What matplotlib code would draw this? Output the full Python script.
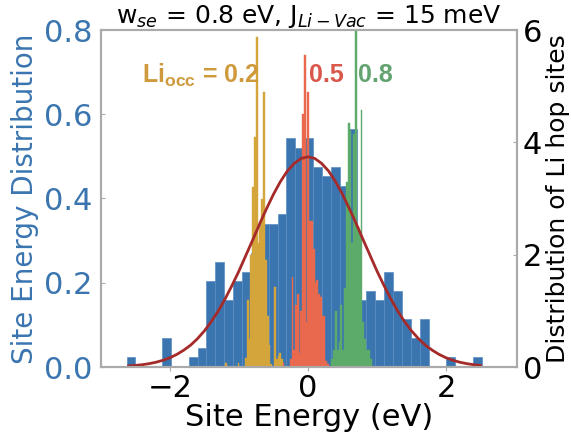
import numpy as np
import matplotlib
matplotlib.use("Agg")
import matplotlib.pyplot as plt

plt.rcParams['mathtext.fontset'] = 'custom'
plt.rcParams['mathtext.rm'] = 'DejaVu Sans'
plt.rcParams['mathtext.it'] = 'DejaVu Sans:italic'
plt.rcParams['mathtext.bf'] = 'Liberation Sans:bold'

# site energies: 40 bins between the min and max site energy (counts per bin)
site_range = (-2.63, 2.52)
site_counts = [1, 0, 0, 0, 3, 0, 0, 1, 2, 9,
               11, 7, 9, 10, 12, 15, 15, 16, 24, 23,
               24, 21, 20, 21, 19, 25, 7, 8, 7, 10,
               8, 5, 3, 5, 0, 0, 1, 0, 0, 1]

# hop site distributions (density, right axis), one per Li occupancy
occ02_start, occ02_width = -1.205, 0.0264
occ02_dens = [0.08, 0, 0, 0, 0, 0, 0, 0.08, 0, 0, 0,
              0.16, 1.2, 0.5, 2.0, 3.2, 4.1, 5.87, 2.2, 2.5, 3.0,
              4.9, 1.9, 0.9, 0.4, 0.05, 0, 1.43, 0.15, 0.2, 0.25, 0.15]

occ05_start, occ05_width = -0.366, 0.0256
occ05_dens = [0.08, 0, 0, 0,
              0.15, 1.6, 0.3, 1.1, 1.3, 0.25, 1.0, 4.5, 5.55, 0.8,
              4.9, 2.6, 2.6, 2.1, 1.5, 1.55, 1.3, 1.25, 0.9, 0.9, 0.1, 0.05]

occ08_start, occ08_width = 0.338, 0.0265
occ08_dens = [0.15, 0.3, 1.0, 0.3, 0.45, 1.1, 0.3, 1.4, 3.3, 4.35,
              4.2, 2.2, 4.15, 6.6, 2.5, 2.4, 4.57, 0.8, 0.5, 0.3,
              0.3, 0.15]

# gaussian site energy distribution, w_se = 0.8 eV
curve_x = [-2.6, -2.5, -2.4, -2.3, -2.2, -2.1, -2.0, -1.9, -1.8, -1.7,
           -1.6, -1.5, -1.4, -1.3, -1.2, -1.1, -1.0, -0.9, -0.8, -0.7,
           -0.6, -0.5, -0.4, -0.3, -0.2, -0.1, 0.0, 0.1, 0.2, 0.3,
           0.4, 0.5, 0.6, 0.7, 0.8, 0.9, 1.0, 1.1, 1.2, 1.3,
           1.4, 1.5, 1.6, 1.7, 1.8, 1.9, 2.0, 2.1, 2.2, 2.3,
           2.4, 2.5]
curve_y = [0.0025, 0.0038, 0.0055, 0.0080, 0.0114, 0.016, 0.022, 0.030, 0.040, 0.052,
           0.0675, 0.086, 0.108, 0.133, 0.162, 0.194, 0.228, 0.265, 0.302, 0.340,
           0.376, 0.410, 0.440, 0.465, 0.483, 0.495, 0.499, 0.495, 0.483, 0.465,
           0.440, 0.410, 0.376, 0.340, 0.302, 0.265, 0.228, 0.194, 0.162, 0.133,
           0.108, 0.086, 0.0675, 0.052, 0.040, 0.030, 0.022, 0.016, 0.0114, 0.0080,
           0.0055, 0.0038]

blue = '#3a75b0'
c_curve = '#a52a2a'
c_02, c_05, c_08 = '#d4a53a', '#e9694f', '#5dab6b'
spine_c = '#aaaaaa'


def centers(start, width, n):
    return start + width * (np.arange(n) + 0.5)


fig = plt.figure(figsize=(5.71, 4.4), dpi=100)
ax = fig.add_axes([101 / 571, 1 - 367 / 440, 416 / 571, 337 / 440])
ax2 = ax.twinx()

nb = len(site_counts)
bw = (site_range[1] - site_range[0]) / nb
ax.hist(centers(site_range[0], bw, nb), bins=nb, range=site_range,
        weights=site_counts, density=True, color=blue,
        edgecolor='#5a8cc2', linewidth=0.5)

for start, width, dens, col in [(occ02_start, occ02_width, occ02_dens, c_02),
                                (occ05_start, occ05_width, occ05_dens, c_05),
                                (occ08_start, occ08_width, occ08_dens, c_08)]:
    ax2.bar(centers(start, width, len(dens)), dens, width=width,
            color=col, edgecolor=col, linewidth=0.3)

# curve sits above every histogram but uses the left axis scale
ax2.plot(curve_x, curve_y, color=c_curve, lw=2, transform=ax.transData)

ax.set_xlim(-3, 3.03)
ax.set_ylim(0, 0.8)
ax2.set_ylim(0, 6)
ax.set_xticks([-2, 0, 2])
ax.set_yticks([0.0, 0.2, 0.4, 0.6, 0.8])
ax2.set_yticks([0, 2, 4, 6])

ax.tick_params(axis='x', labelsize=22, direction='out', length=3,
               color=spine_c, pad=2)
ax.tick_params(axis='y', labelsize=22, direction='in', length=3,
               color=spine_c, labelcolor=blue, pad=6)
ax2.tick_params(axis='y', labelsize=22, direction='in', length=3,
                color=spine_c, pad=4)

for a in (ax, ax2):
    for s in a.spines.values():
        s.set_color(spine_c)
        s.set_linewidth(1.5)

ax.set_xlabel('Site Energy (eV)', fontsize=22, labelpad=0)
ax.set_ylabel('Site Energy Distribution', fontsize=20, color=blue, labelpad=4)
ax2.set_ylabel('Distribution of Li hop sites', fontsize=18, labelpad=3)
ax.set_title(r'w$_{se}$ = 0.8 eV, J$_{Li-Vac}$ = 15 meV', fontsize=18, pad=4)

ax2.text(-2.4, 5.2, r'$\mathbf{Li_{occ}}$ = 0.2', fontsize=18,
         fontfamily='Liberation Sans', fontweight='bold', color='#cf9a3c',
         va='center', ha='left')
ax2.text(0.02, 5.2, '0.5', fontsize=18, fontfamily='Liberation Sans',
         fontweight='bold', color='#d9574b', va='center', ha='left')
ax2.text(0.72, 5.2, '0.8', fontsize=18, fontfamily='Liberation Sans',
         fontweight='bold', color='#62a370', va='center', ha='left')

fig.savefig('out.png', dpi=100)
